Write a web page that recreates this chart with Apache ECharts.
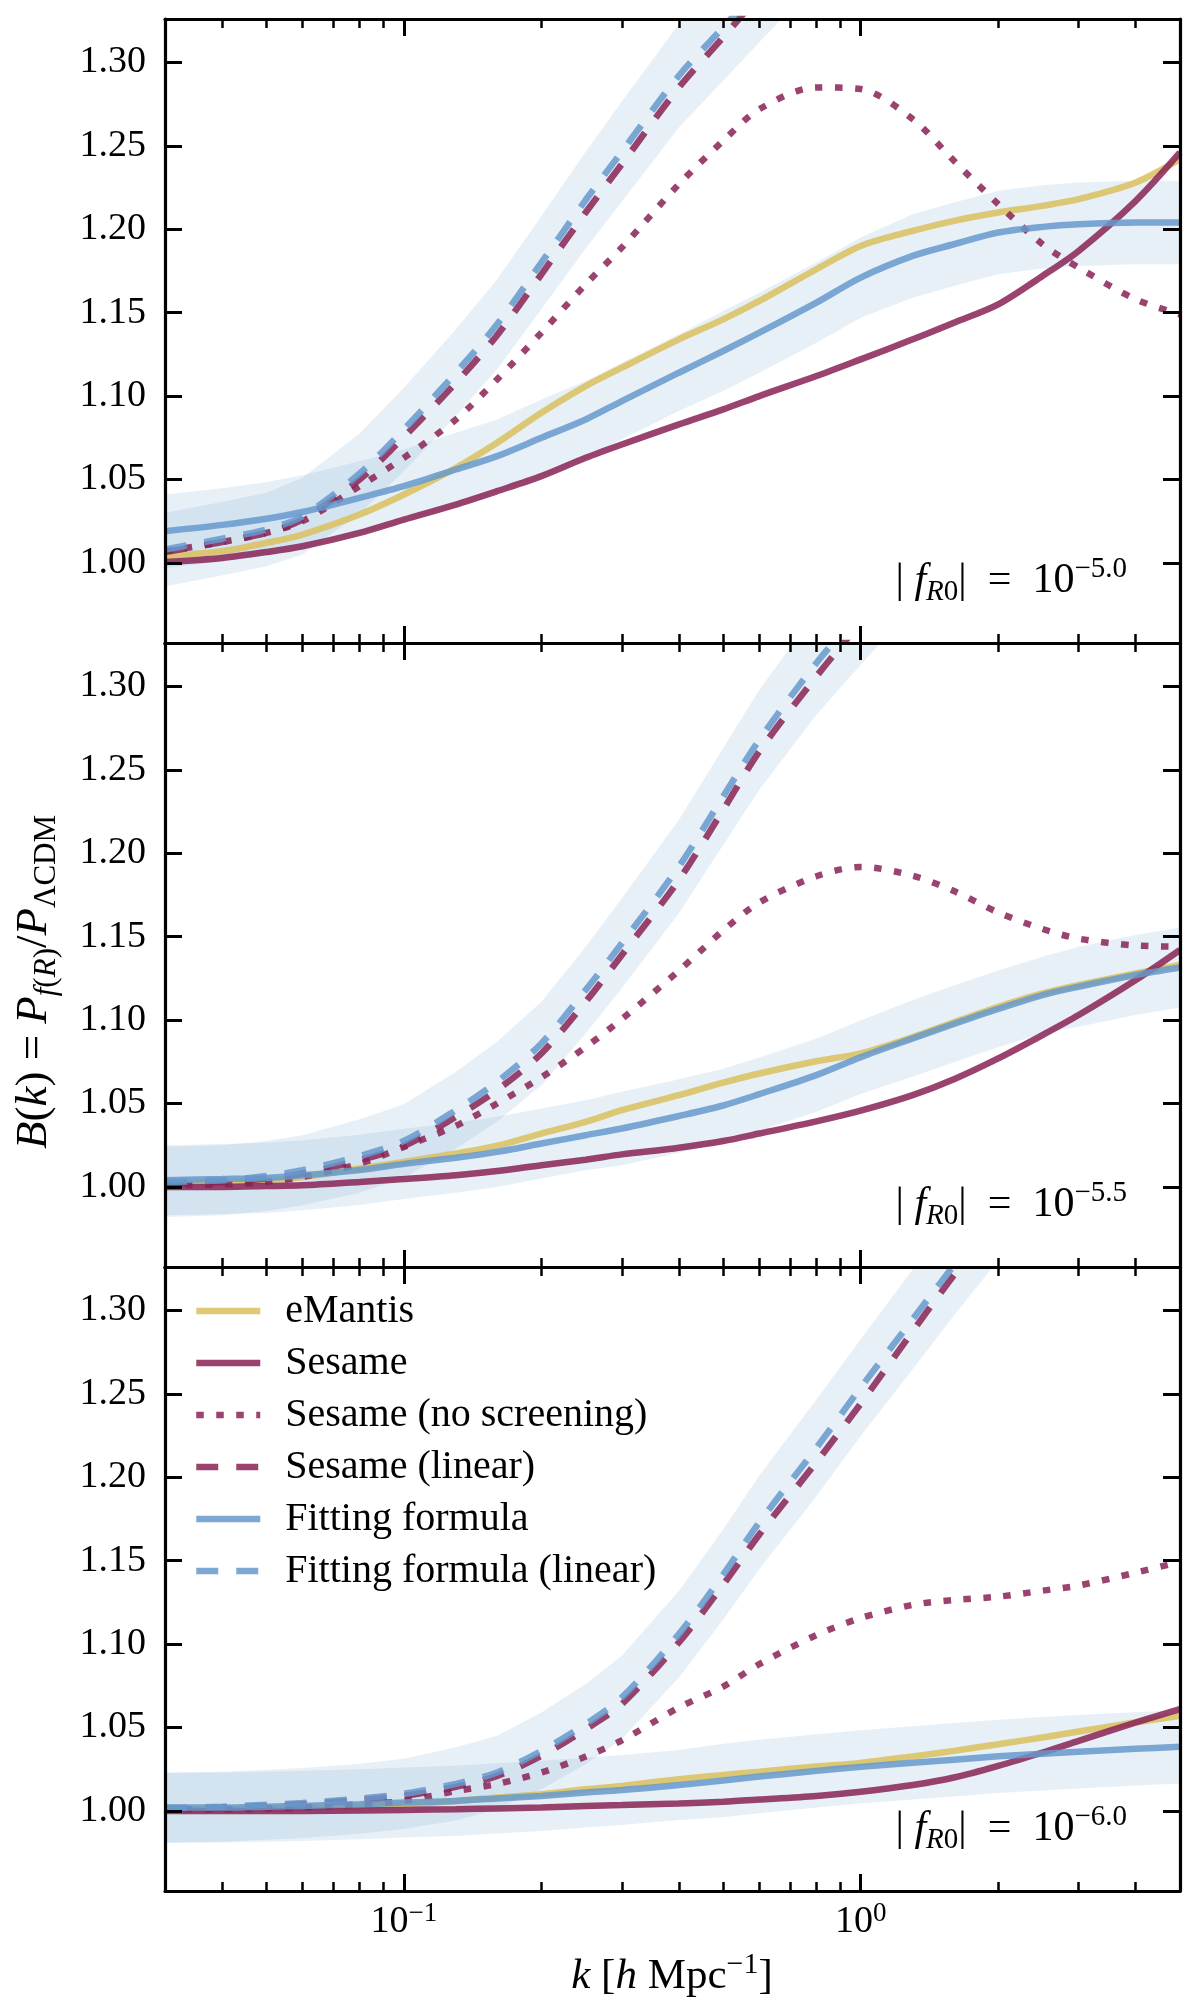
<!DOCTYPE html>
<html lang="en">
<head>
<meta charset="UTF-8">
<style>
html, body { margin: 0; background: #fff; }
</style>
</head>
<body>
<div id="chart" style="width:1200px;height:2013px;"></div>
<script src="https://cdn.jsdelivr.net/npm/echarts@6/dist/echarts.min.js"></script>
<script>
// shared k grid [h/Mpc]
var kValues = [0.03, 0.04, 0.05, 0.06, 0.08, 0.1, 0.13, 0.16, 0.2, 0.25, 0.3, 0.4, 0.5, 0.6, 0.8, 1.0, 1.3, 1.6, 2.0, 2.5, 3.0, 4.0, 5.0];

var yTicks = [1.00, 1.05, 1.10, 1.15, 1.20, 1.25, 1.30];
var xMajorTicks = [0.1, 1];
var xMinorTicks = [0.04, 0.05, 0.06, 0.07, 0.08, 0.09, 0.2, 0.3, 0.4, 0.5, 0.6, 0.7, 0.8, 0.9, 2, 3, 4];
var panelExponents = ['−5.0', '−5.5', '−6.0'];
var seriesNames = ['eMantis', 'Sesame', 'Sesame (no screening)', 'Sesame (linear)', 'Fitting formula', 'Fitting formula (linear)'];

// |fR0| = 10^-5.0
var emantis50 = [1.004, 1.007, 1.012, 1.017, 1.029, 1.041, 1.057, 1.072, 1.090, 1.106, 1.117, 1.134, 1.146, 1.157, 1.176, 1.190, 1.199, 1.205, 1.210, 1.214, 1.218, 1.228, 1.242];
var sesame50 = [1.0005, 1.003, 1.0065, 1.010, 1.018, 1.026, 1.035, 1.043, 1.052, 1.063, 1.071, 1.083, 1.092, 1.100, 1.112, 1.122, 1.134, 1.144, 1.155, 1.172, 1.187, 1.217, 1.246];
var noScreen50 = [1.007, 1.0125, 1.018, 1.025, 1.046, 1.063, 1.086, 1.110, 1.138, 1.167, 1.189, 1.227, 1.253, 1.272, 1.285, 1.284, 1.266, 1.241, 1.215, 1.191, 1.177, 1.158, 1.149];
var sesameLin50 = [1.0065, 1.0125, 1.018, 1.026, 1.050, 1.0755, 1.108, 1.1365, 1.173, 1.210, 1.239, 1.285, 1.315, 1.340, 1.377];
var fit50 = [1.019, 1.0228, 1.0265, 1.0305, 1.039, 1.046, 1.056, 1.064, 1.075, 1.086, 1.097, 1.114, 1.127, 1.138, 1.156, 1.171, 1.184, 1.191, 1.198, 1.2014, 1.203, 1.204, 1.204];
var fitLin50 = [1.008, 1.0145, 1.020, 1.028, 1.0536, 1.080, 1.114, 1.143, 1.180, 1.2175, 1.2465, 1.292, 1.321, 1.345, 1.382];
var fitBand50 = [0.022, 0.022, 0.022, 0.022, 0.022, 0.022, 0.022, 0.022, 0.023, 0.023, 0.023, 0.023, 0.024, 0.024, 0.024, 0.024, 0.025, 0.025, 0.025, 0.025, 0.025, 0.025, 0.025];
var fitLinBand50 = [0.022, 0.022, 0.022, 0.023, 0.024, 0.025, 0.026, 0.027, 0.028, 0.029, 0.030, 0.031, 0.032, 0.033, 0.034];

// |fR0| = 10^-5.5
var emantis55 = [1.003, 1.003, 1.004, 1.006, 1.011, 1.015, 1.020, 1.0247, 1.032, 1.039, 1.046, 1.055, 1.0625, 1.068, 1.0753, 1.080, 1.0898, 1.0987, 1.108, 1.116, 1.121, 1.128, 1.133];
var sesame55 = [1.000, 1.000, 1.0005, 1.001, 1.003, 1.0047, 1.007, 1.0095, 1.013, 1.0163, 1.0195, 1.0235, 1.0275, 1.032, 1.0393, 1.0457, 1.055, 1.0645, 1.077, 1.091, 1.103, 1.124, 1.142];
var noScreen55 = [1.001, 1.0015, 1.003, 1.006, 1.0139, 1.024, 1.0367, 1.050, 1.0657, 1.0838, 1.1006, 1.1296, 1.1537, 1.1705, 1.1862, 1.1918, 1.1865, 1.1773, 1.1645, 1.1546, 1.1488, 1.1447, 1.144];
var sesameLin55 = [1.002, 1.003, 1.005, 1.008, 1.016, 1.0245, 1.042, 1.058, 1.080, 1.111, 1.139, 1.184, 1.226, 1.261, 1.306, 1.338, 1.372];
var fit55 = [1.004, 1.0047, 1.0054, 1.007, 1.0102, 1.0138, 1.0175, 1.021, 1.026, 1.031, 1.035, 1.0425, 1.0488, 1.0556, 1.067, 1.0777, 1.089, 1.0977, 1.1067, 1.115, 1.120, 1.127, 1.1315];
var fitLin55 = [1.003, 1.004, 1.0065, 1.010, 1.0185, 1.0275, 1.046, 1.063, 1.086, 1.118, 1.146, 1.192, 1.234, 1.268, 1.314, 1.345, 1.380];
var fitBand55 = [0.021, 0.021, 0.021, 0.021, 0.021, 0.021, 0.021, 0.021, 0.021, 0.021, 0.022, 0.022, 0.022, 0.022, 0.022, 0.022, 0.023, 0.023, 0.023, 0.023, 0.024, 0.024, 0.024];
var fitLinBand55 = [0.021, 0.021, 0.021, 0.021, 0.022, 0.022, 0.023, 0.024, 0.025, 0.026, 0.027, 0.028, 0.029, 0.030, 0.031, 0.032, 0.033];

// |fR0| = 10^-6.0
var emantis60 = [1.001, 1.001, 1.0015, 1.002, 1.003, 1.004, 1.006, 1.008, 1.010, 1.013, 1.015, 1.019, 1.0216, 1.0235, 1.0266, 1.0288, 1.0327, 1.036, 1.040, 1.044, 1.0476, 1.0531, 1.057];
var sesame60 = [1.000, 1.000, 1.000, 1.000, 1.0003, 1.0006, 1.001, 1.0015, 1.002, 1.003, 1.0035, 1.0045, 1.0055, 1.0068, 1.009, 1.0115, 1.0155, 1.020, 1.027, 1.035, 1.042, 1.053, 1.061];
var noScreen60 = [1.001, 1.001, 1.0015, 1.002, 1.004, 1.006, 1.0119, 1.0162, 1.023, 1.0326, 1.0423, 1.062, 1.0745, 1.088, 1.1054, 1.1156, 1.1235, 1.1264, 1.1284, 1.132, 1.1351, 1.1428, 1.1493];
var sesameLin60 = [1.0015, 1.002, 1.003, 1.004, 1.0065, 1.009, 1.0145, 1.021, 1.033, 1.049, 1.064, 1.101, 1.1356, 1.1657, 1.2091, 1.2441, 1.2875, 1.3212, 1.355, 1.390];
var fit60 = [1.002, 1.002, 1.0025, 1.003, 1.004, 1.005, 1.006, 1.0075, 1.009, 1.011, 1.0125, 1.0155, 1.0182, 1.0206, 1.024, 1.0264, 1.0288, 1.0307, 1.0327, 1.0343, 1.0355, 1.0372, 1.0384];
var fitLin60 = [1.0017, 1.0025, 1.0037, 1.0047, 1.0073, 1.0102, 1.0162, 1.023, 1.036, 1.052, 1.068, 1.106, 1.1416, 1.173, 1.2176, 1.2537, 1.2947, 1.327, 1.360, 1.395];
var fitBand60 = [0.021, 0.021, 0.021, 0.021, 0.021, 0.021, 0.021, 0.021, 0.021, 0.021, 0.021, 0.021, 0.022, 0.022, 0.022, 0.022, 0.022, 0.022, 0.022, 0.022, 0.022, 0.022, 0.022];
var fitLinBand60 = [0.021, 0.021, 0.021, 0.021, 0.021, 0.021, 0.022, 0.022, 0.023, 0.024, 0.025, 0.026, 0.027, 0.028, 0.029, 0.029, 0.030, 0.030, 0.030, 0.030];

var panels = [
    { emantis: emantis50, sesame: sesame50, noScreen: noScreen50, sesameLin: sesameLin50, fit: fit50, fitLin: fitLin50, fitBand: fitBand50, fitLinBand: fitLinBand50 },
    { emantis: emantis55, sesame: sesame55, noScreen: noScreen55, sesameLin: sesameLin55, fit: fit55, fitLin: fitLin55, fitBand: fitBand55, fitLinBand: fitLinBand55 },
    { emantis: emantis60, sesame: sesame60, noScreen: noScreen60, sesameLin: sesameLin60, fit: fit60, fitLin: fitLin60, fitBand: fitBand60, fitLinBand: fitLinBand60 }
];

var FONT = '"Liberation Serif", serif';
var gridTops = [19, 643, 1267];
var GRID_H = 624;
var lineColors = ['#D9C05E', '#882255', '#882255', '#882255', '#6699CC', '#6699CC'];
var lineTypes = ['solid', 'solid', [7.5, 12.5], [22, 18], 'solid', [22, 18]];
var bandColor = 'rgba(102,153,204,0.15)';

function pairs(arr) {
    var out = [];
    for (var i = 0; i < arr.length; i++) {
        if (arr[i] != null) out.push([kValues[i], arr[i]]);
    }
    return out;
}

// shaded uncertainty band drawn as one polygon through the axis scales
function bandSeries(center, half, p) {
    var upper = [], lower = [];
    for (var i = 0; i < half.length; i++) {
        upper.push([kValues[i], center[i] + half[i]]);
        lower.push([kValues[i], center[i] - half[i]]);
    }
    return {
        type: 'custom', xAxisIndex: 4 * p, yAxisIndex: 2 * p, silent: true, z: 1, clip: true,
        data: [[kValues[0], center[0]]],
        renderItem: function (params, api) {
            var pts = upper.map(function (d) { return api.coord(d); });
            for (var j = lower.length - 1; j >= 0; j--) pts.push(api.coord(lower[j]));
            var cs = params.coordSys;
            return {
                type: 'polygon',
                shape: { points: pts },
                style: { fill: bandColor },
                clipPath: { type: 'rect', shape: { x: cs.x, y: cs.y, width: cs.width, height: cs.height } }
            };
        }
    };
}

var grids = [], xAxes = [], yAxes = [], series = [];

function xAxisFor(p, pos, major) {
    return {
        type: 'log', logBase: 10, min: 0.03, max: 5, gridIndex: p, position: pos, z: 5,
        axisLine: { show: major, onZero: false, lineStyle: { color: '#000', width: 3.2 } },
        axisTick: {
            show: true, inside: true, length: major ? 17 : 9,
            customValues: major ? xMajorTicks : xMinorTicks,
            lineStyle: { color: '#000', width: major ? 3 : 2.5 }
        },
        axisLabel: {
            show: major && pos === 'bottom' && p === 2,
            customValues: xMajorTicks,
            margin: 9,
            formatter: function (v) {
                var e = Math.round(Math.log10(v));
                return '{n|10}{s|' + (e < 0 ? '−' + (-e) : e) + '}';
            },
            rich: {
                n: { fontFamily: FONT, fontSize: 38, lineHeight: 44, color: '#000', verticalAlign: 'middle' },
                s: { fontFamily: FONT, fontSize: 27, lineHeight: 27, color: '#000', verticalAlign: 'top' }
            }
        },
        splitLine: { show: false },
        minorTick: { show: false }
    };
}

function yAxisFor(p, pos) {
    return {
        type: 'value', min: 0.952, max: 1.326, gridIndex: p, position: pos, z: 5,
        axisLine: { show: true, onZero: false, lineStyle: { color: '#000', width: 3.2 } },
        axisTick: { show: true, inside: true, length: 17, customValues: yTicks, lineStyle: { color: '#000', width: 3 } },
        axisLabel: {
            show: pos === 'left', customValues: yTicks, margin: 19,
            formatter: function (v) { return v.toFixed(2); },
            fontFamily: FONT, fontSize: 38, color: '#000'
        },
        splitLine: { show: false }
    };
}

panels.forEach(function (pd, p) {
    grids.push({ left: 165, width: 1015, top: gridTops[p], height: GRID_H, outerBoundsMode: 'none' });
    xAxes.push(xAxisFor(p, 'bottom', true), xAxisFor(p, 'bottom', false), xAxisFor(p, 'top', true), xAxisFor(p, 'top', false));
    yAxes.push(yAxisFor(p, 'left'), yAxisFor(p, 'right'));

    series.push(bandSeries(pd.fitLin, pd.fitLinBand, p));
    series.push(bandSeries(pd.fit, pd.fitBand, p));

    var lines = [pd.emantis, pd.sesame, pd.noScreen, pd.sesameLin, pd.fit, pd.fitLin];
    lines.forEach(function (arr, j) {
        series.push({
            type: 'line', name: seriesNames[j], xAxisIndex: 4 * p, yAxisIndex: 2 * p,
            data: pairs(arr), symbol: 'none', smooth: 0.3, silent: true, z: 3,
            lineStyle: { color: lineColors[j], width: 6.5, type: lineTypes[j], opacity: 0.85 },
            itemStyle: { color: lineColors[j] }
        });
    });
});

var annRich = {
    n: { fontFamily: FONT, fontSize: 42, lineHeight: 52, verticalAlign: 'middle', fill: '#000' },
    i: { fontFamily: FONT, fontSize: 42, lineHeight: 52, verticalAlign: 'middle', fontStyle: 'italic', fill: '#000' },
    si: { fontFamily: FONT, fontSize: 29, lineHeight: 29, verticalAlign: 'bottom', fontStyle: 'italic', fill: '#000' },
    s: { fontFamily: FONT, fontSize: 29, lineHeight: 29, verticalAlign: 'bottom', fill: '#000' },
    p: { fontFamily: FONT, fontSize: 29, lineHeight: 29, verticalAlign: 'top', fill: '#000' }
};
var titleRich = {
    n: { fontFamily: FONT, fontSize: 45, lineHeight: 56, verticalAlign: 'middle', fill: '#000' },
    i: { fontFamily: FONT, fontSize: 45, lineHeight: 56, verticalAlign: 'middle', fontStyle: 'italic', fill: '#000' },
    si: { fontFamily: FONT, fontSize: 31, lineHeight: 31, verticalAlign: 'bottom', fontStyle: 'italic', fill: '#000' },
    s: { fontFamily: FONT, fontSize: 31, lineHeight: 31, verticalAlign: 'bottom', fill: '#000' },
    p: { fontFamily: FONT, fontSize: 31, lineHeight: 31, verticalAlign: 'top', fill: '#000' }
};
var xTitleRich = {
    n: { fontFamily: FONT, fontSize: 43, lineHeight: 54, verticalAlign: 'middle', fill: '#000' },
    i: { fontFamily: FONT, fontSize: 43, lineHeight: 54, verticalAlign: 'middle', fontStyle: 'italic', fill: '#000' },
    p: { fontFamily: FONT, fontSize: 30, lineHeight: 30, verticalAlign: 'top', fill: '#000' }
};

var graphics = [];
panelExponents.forEach(function (ex, p) {
    graphics.push({
        type: 'text', x: 1127, y: gridTops[p] + GRID_H - 88, z: 10,
        style: {
            text: '{n||}{i| f}{si|R}{s|0}{n||  =  10}{p|' + ex + '}',
            rich: annRich, align: 'right', verticalAlign: 'top'
        }
    });
});
graphics.push({
    type: 'text', x: 672, y: 1977, z: 10,
    style: {
        text: '{i|k}{n| [}{i|h}{n| Mpc}{p|−1}{n|]}',
        rich: xTitleRich, align: 'center', verticalAlign: 'middle'
    }
});
graphics.push({
    type: 'text', x: 34, y: 982, rotation: Math.PI / 2, z: 10,
    style: {
        text: '{i|B}{n|(}{i|k}{n|) = }{i|P}{si|f}{s|(}{si|R}{s|)}{n|/}{i|P}{s|ΛCDM}',
        rich: titleRich, align: 'center', verticalAlign: 'middle'
    }
});

var legendTypes = ['solid', 'solid', [7.5, 12.5], [22, 18], 'solid', [22, 18]];

var chart = echarts.init(document.getElementById('chart'));
chart.setOption({
    animation: false,
    backgroundColor: '#fff',
    grid: grids,
    xAxis: xAxes,
    yAxis: yAxes,
    legend: {
        orient: 'vertical', left: 193, top: 1291, padding: 0,
        itemWidth: 64, itemHeight: 39, itemGap: 12, selectedMode: false,
        data: seriesNames.map(function (n, j) {
            return { name: n, lineStyle: { type: legendTypes[j], width: 6.5, opacity: 0.85 }, itemStyle: { opacity: 0 } };
        }),
        textStyle: { fontFamily: FONT, fontSize: 40, lineHeight: 39, color: '#000', padding: [0, 0, 0, 20] }
    },
    graphic: graphics,
    series: series
});
</script>
</body>
</html>
